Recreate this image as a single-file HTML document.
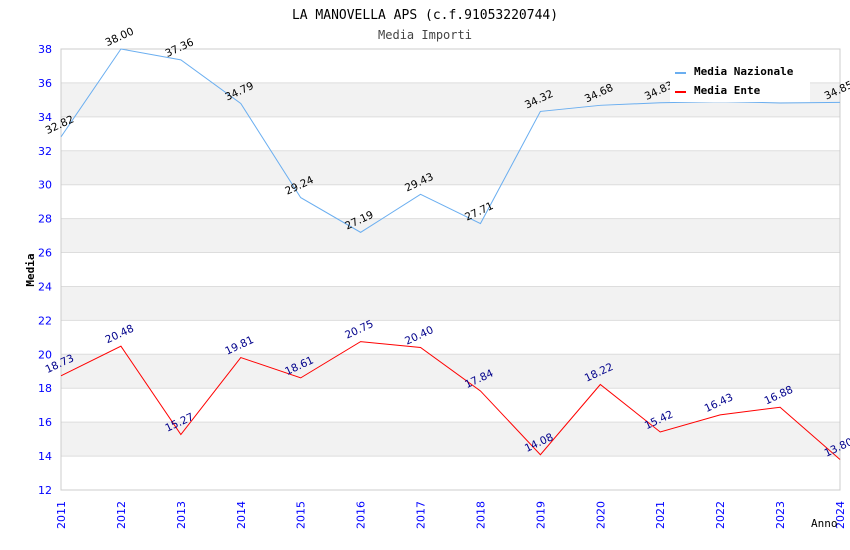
<!DOCTYPE html>
<html><head><meta charset="utf-8"><style>
body{margin:0;background:#fff;width:850px;height:550px;overflow:hidden}
svg{display:block}
.mono{font-family:"DejaVu Sans Mono","Liberation Mono",monospace}
.sans{font-family:"DejaVu Sans","Liberation Sans",sans-serif}
</style></head><body>
<svg id="chart" width="850" height="550">
<text x="425" y="19" text-anchor="middle" class="mono" font-size="13">LA MANOVELLA APS (c.f.91053220744)</text>
<text x="425" y="39" text-anchor="middle" class="mono" font-size="12" fill="#444">Media Importi</text>
<g id="bands"></g><g id="grid"></g><g id="axes"></g><g id="series"></g><g id="labels"></g>
<text x="34" y="270" transform="rotate(-90 34 270)" text-anchor="middle" class="mono" font-size="11" font-weight="bold">Media</text>
<text x="811" y="527" class="mono" font-size="11">Anno</text>
<g>
<rect x="670" y="60" width="140" height="42" fill="#fff"/>
<g><line x1="675" y1="73" x2="686" y2="73" stroke="#6aaef0" stroke-width="2"/><text x="694" y="75" class="mono" font-size="11" font-weight="bold">Media Nazionale</text></g>
<g><line x1="675" y1="92" x2="686" y2="92" stroke="#f00" stroke-width="2"/><text x="694" y="94" class="mono" font-size="11" font-weight="bold">Media Ente</text></g>
</g>
</svg>
<script>
const years=[2011,2012,2013,2014,2015,2016,2017,2018,2019,2020,2021,2022,2023,2024];
const nazionale=[32.82,38.00,37.36,34.79,29.24,27.19,29.43,27.71,34.32,34.68,34.83,34.9,34.82,34.85];
const nazLabels=["32.82","38.00","37.36","34.79","29.24","27.19","29.43","27.71","34.32","34.68","34.83","","","34.85"];
const ente=[18.73,20.48,15.27,19.81,18.61,20.75,20.40,17.84,14.08,18.22,15.42,16.43,16.88,13.80];
const yTicks=[12,14,16,18,20,22,24,26,28,30,32,34,36,38];
const NS="http://www.w3.org/2000/svg";
const L=61,R=840,T=49,B=490,yMin=12,yMax=38;
const xs=i=>L+(R-L)*i/(years.length-1);
const ys=v=>B-(v-yMin)/(yMax-yMin)*(B-T);
function mk(p,t,a){const e=document.createElementNS(NS,t);for(const k in a)e.setAttribute(k,a[k]);document.getElementById(p).appendChild(e);return e;}
for(let v=yMin;v<yMax;v+=2){
  if((v/2)%2==1){const r=mk('bands','rect',{x:L,y:ys(v+2),width:R-L,height:ys(v)-ys(v+2),fill:'#f2f2f2'});
  
  }
}
yTicks.forEach(v=>{
  const l=mk('grid','line',{x1:L,x2:R,y1:ys(v),y2:ys(v),stroke:'#ddd'});
  
  
  const t=mk('axes','text',{x:L-9,y:ys(v)+4,'text-anchor':'end',fill:'#00f','font-size':11,class:'sans'});t.textContent=v;
  
  
});
mk('axes','rect',{x:L,y:T,width:R-L,height:B-T,fill:'none',stroke:'#ccc'});
years.forEach((y,i)=>{
  const x=xs(i);
  const t=mk('axes','text',{x:x+4,y:529,transform:`rotate(-90 ${x+4} 529)`,fill:'#00f','font-size':11,class:'sans'});t.textContent=y;
  
  
});
function series(vals,color,lab,lc,name){
  const p=mk('series','polyline',{points:vals.map((v,i)=>xs(i)+','+ys(v)).join(' '),fill:'none',stroke:color,'stroke-width':1});
  
  
  vals.forEach((v,i)=>{
    if(!lab[i])return;
    const x=xs(i),y=ys(v)-9;
    const t=mk('labels','text',{x:x,y:y,transform:`rotate(-25 ${x} ${y})`,'text-anchor':'middle',fill:lc,'font-size':10.5,class:'sans'});t.textContent=lab[i];
    
    
  });
}
series(nazionale,'#6aaef0',nazLabels,'#000','line-media-nazionale');
series(ente,'#f00',ente.map(v=>v.toFixed(2)),'#00008b','line-media-ente');
</script>
</body></html>
